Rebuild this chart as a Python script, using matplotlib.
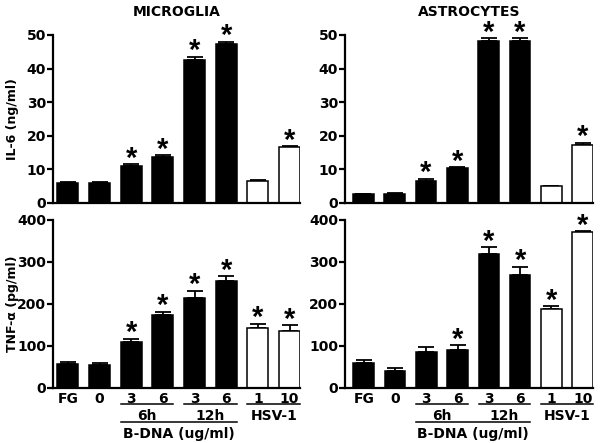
import numpy as np
import matplotlib
matplotlib.use("Agg")
import matplotlib.pyplot as plt

plt.rcParams["font.family"] = ["DejaVu Sans"]
plt.rcParams["font.weight"] = "bold"

# ─── Data ────────────────────────────────────────────────────────────────────
groups = ["FG", "0", "3", "6", "3", "6", "1", "10"]
filled = [True, True, True, True, True, True, False, False]

il6_micro = [5.85, 5.85, 10.9, 13.6, 42.7, 47.2, 6.65, 16.7]
il6_micro_err = [0.5, 0.4, 0.7, 0.6, 0.8, 0.8, 0.25, 0.25]
il6_micro_sig = [False, False, True, True, True, True, False, True]

il6_astro = [2.6, 2.7, 6.6, 10.5, 48.2, 48.2, 5.0, 17.2]
il6_astro_err = [0.2, 0.3, 0.6, 0.2, 0.9, 0.9, 0.2, 0.8]
il6_astro_sig = [False, False, True, True, True, True, False, True]

tnf_micro = [56, 55, 110, 173, 215, 255, 142, 135]
tnf_micro_err = [6, 4, 7, 9, 16, 11, 11, 14]
tnf_micro_sig = [False, False, True, True, True, True, True, True]

tnf_astro = [60, 41, 86, 90, 320, 270, 189, 371]
tnf_astro_err = [6, 7, 11, 12, 15, 19, 6, 2]
tnf_astro_sig = [False, False, False, True, True, True, True, True]

# sub-group brackets under the x labels: (first bar, last bar, label, row)
brackets = [(2, 3, "6h", 1), (4, 5, "12h", 1), (6, 7, "HSV-1", 1),
            (2, 5, "B-DNA (ug/ml)", 2)]

W = 0.66
FS = 10
STAR_FONT = ["Liberation Sans", "DejaVu Sans"]

fig = plt.figure(figsize=(6.0, 4.43), dpi=100)
ax_tl = fig.add_axes([0.0883, 0.5418, 0.4117, 0.3792])
ax_tr = fig.add_axes([0.5750, 0.5418, 0.4133, 0.3792])
ax_bl = fig.add_axes([0.0883, 0.1242, 0.4117, 0.3792])
ax_br = fig.add_axes([0.5750, 0.1242, 0.4133, 0.3792])


def panel(ax, vals, errs, sig, ymax, step, xleft):
    x = np.arange(len(vals))
    colors = ["black" if f else "white" for f in filled]
    ax.bar(x, vals, width=W, color=colors, edgecolor="black", linewidth=1.1, zorder=2)
    ax.errorbar(x, vals, yerr=[np.zeros(len(errs)), errs], fmt="none",
                ecolor="black", elinewidth=1.3, capsize=6, capthick=1.3, zorder=1)
    for xi, v, e, s in zip(x, vals, errs, sig):
        if s:
            ax.annotate("*", (xi, v + e), xytext=(0, 4), textcoords="offset points",
                        ha="center", va="center", fontsize=21, fontweight="bold",
                        family=STAR_FONT, annotation_clip=False)
    ax.set_xlim(xleft, 7.33)
    ax.set_ylim(0, ymax)
    ax.set_yticks(np.arange(0, ymax + 1, step))
    for sp in ("top", "right"):
        ax.spines[sp].set_visible(False)
    for sp in ("left", "bottom"):
        ax.spines[sp].set_linewidth(1.6)
    ax.tick_params(axis="y", direction="out", length=4, width=1.6, labelsize=FS, pad=1)
    ax.set_xticks([])
    for lab in ax.get_yticklabels():
        lab.set_fontweight("bold")


panel(ax_tl, il6_micro, il6_micro_err, il6_micro_sig, 50, 10, -0.47)
panel(ax_tr, il6_astro, il6_astro_err, il6_astro_sig, 50, 10, -0.58)
panel(ax_bl, tnf_micro, tnf_micro_err, tnf_micro_sig, 400, 100, -0.47)
panel(ax_br, tnf_astro, tnf_astro_err, tnf_astro_sig, 400, 100, -0.60)

# x labels as text rows (baseline offsets in pixels below the x axis)
for ax in (ax_bl, ax_br):
    trans = ax.get_xaxis_transform()
    h = ax.get_position().height * fig.get_figheight() * fig.dpi
    for xi, g in enumerate(groups):
        ax.text(xi, -15 / h, g, transform=trans, ha="center", va="baseline",
                fontsize=FS, fontweight="bold")
    for a, b, lab, row in brackets:
        yline = -(16.5 + 18 * (row - 1)) / h
        ybase = -(32 + 18 * (row - 1)) / h
        ax.plot([a - W / 2, b + W / 2], [yline, yline], color="black", lw=1.1,
                transform=trans, clip_on=False)
        ax.text((a + b) / 2, ybase, lab, transform=trans, ha="center", va="baseline",
                fontsize=FS, fontweight="bold")

ax_tl.set_title("MICROGLIA", fontsize=FS, fontweight="bold", pad=14)
ax_tr.set_title("ASTROCYTES", fontsize=FS, fontweight="bold", pad=14)

# y labels placed in figure coords so the wide "400" ticks don't push them off
for ax, lab in ((ax_tl, "IL-6 (ng/ml)"), (ax_bl, "TNF-\u03b1 (pg/ml)")):
    pos = ax.get_position()
    fig.text(0.021, pos.y0 + pos.height / 2, lab, rotation=90, ha="center", va="center",
             fontsize=9, fontweight="bold")

fig.savefig("out.png", dpi=100)
